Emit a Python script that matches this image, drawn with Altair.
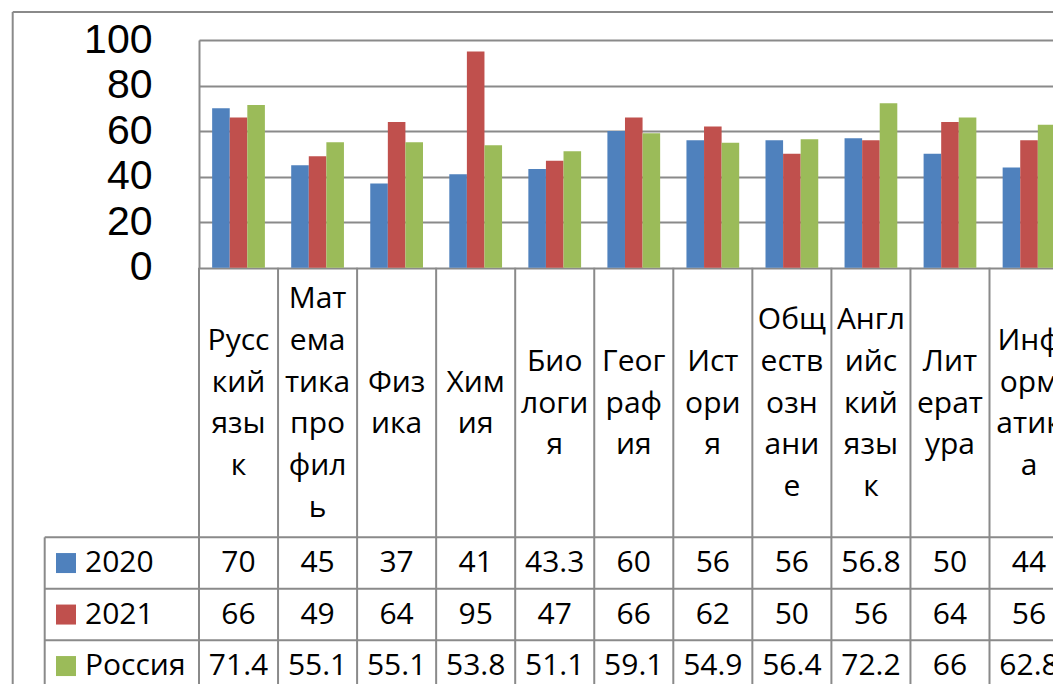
import altair as alt
import pandas as pd

# ---------------- data ----------------
subjects = ["Русский язык", "Математика профиль", "Физика", "Химия", "Биология",
            "География", "История", "Обществознание", "Английский язык",
            "Литература", "Информатика"]
header_lines = [
    ["Русс", "кий", "язы", "к"],
    ["Мат", "ема", "тика", "про", "фил", "ь"],
    ["Физ", "ика"],
    ["Хим", "ия"],
    ["Био", "логи", "я"],
    ["Геог", "раф", "ия"],
    ["Ист", "ори", "я"],
    ["Общ", "еств", "озн", "ани", "е"],
    ["Англ", "ийс", "кий", "язы", "к"],
    ["Лит", "ерат", "ура"],
    ["Инф", "орм", "атик", "а"],
]
series = ["2020", "2021", "Россия"]
values_2020 = [70, 45, 37, 41, 43.3, 60, 56, 56, 56.8, 50, 44]
values_2021 = [66, 49, 64, 95, 47, 66, 62, 50, 56, 64, 56]
values_russia = [71.4, 55.1, 55.1, 53.8, 51.1, 59.1, 54.9, 56.4, 72.2, 66, 62.8]
series_colors = ["#4F81BD", "#C0504D", "#9BBB59"]
y_ticks = [0, 20, 40, 60, 80, 100]

# ---------------- layout ----------------
PAD_L, PAD_T = 191, 32
STEP = 79.05
W, H = STEP * len(subjects), 644
VISIBLE_W = 1045                      # page width available for the svg
PAD_R = VISIBLE_W - PAD_L - W         # negative: the last column is cut off
BAR_H = 227.7
HEADER_MID = 363.5
LINE_H = 41.7
ROW_TOP, ROW_H = 497.3, 51.5
GRID = "#8a8a8a"
TXT_FONT = "Open Sans"
TXT_SIZE = 30

vals = {"2020": values_2020, "2021": values_2021, "Россия": values_russia}
long = pd.DataFrame([
    {"subject": s, "series": k, "value": v, "label": f"{v:g}"}
    for k in series for s, v in zip(subjects, vals[k])
])

hdr_rows = []
for s, lines in zip(subjects, header_lines):
    n = len(lines)
    for i, t in enumerate(lines):
        hdr_rows.append({"subject": s, "pos": i - (n - 1) / 2, "text": t})
hdr = pd.DataFrame(hdr_rows)

subj_df = pd.DataFrame({"subject": subjects})
ser_df = pd.DataFrame({"series": series})
one = pd.DataFrame({"k": [0]})

x_scale = alt.Scale(type="band", domain=subjects, paddingInner=0, paddingOuter=0)
row_scale = alt.Scale(type="band", domain=series,
                      range=[ROW_TOP, ROW_TOP + 3 * ROW_H],
                      paddingInner=0, paddingOuter=0)
color_scale = alt.Scale(domain=series, range=series_colors)

# column separators of the data table
col_rules = alt.Chart(subj_df).mark_rule(color=GRID, strokeWidth=2).encode(
    x=alt.X("subject:N", bandPosition=0, scale=x_scale, axis=None),
    y=alt.value(BAR_H), y2=alt.value(H),
)
# row separators
row_rules = alt.Chart(ser_df).mark_rule(color=GRID, strokeWidth=2).encode(
    y=alt.Y("series:N", bandPosition=0, scale=row_scale, axis=None),
    x=alt.value(-154.3), x2=alt.value(W),
)
legend_col_rule = alt.Chart(one).mark_rule(color=GRID, strokeWidth=2).encode(
    x=alt.value(-154.3), y=alt.value(ROW_TOP), y2=alt.value(H),
)
frame_left = alt.Chart(one).mark_rule(color=GRID, strokeWidth=2).encode(
    x=alt.value(-186.3), y=alt.value(-28), y2=alt.value(H),
)
frame_top = alt.Chart(one).mark_rule(color=GRID, strokeWidth=2).encode(
    x=alt.value(-186.3), x2=alt.value(W), y=alt.value(-28),
)

bars = alt.Chart(long).mark_bar().encode(
    x=alt.X("subject:N", scale=x_scale, axis=None),
    xOffset=alt.XOffset("series:N", scale=alt.Scale(domain=series, paddingOuter=0.748, paddingInner=0)),
    y=alt.Y("value:Q",
            scale=alt.Scale(domain=[0, 100], range=[BAR_H, 0], nice=False),
            axis=alt.Axis(values=y_ticks, title=None, labelFont="Liberation Sans",
                          labelFontSize=41, labelColor="black", labelPadding=47,
                          ticks=False, tickSize=0, domain=True, domainColor=GRID,
                          domainWidth=2, grid=True, gridColor=GRID, gridWidth=2)),
    color=alt.Color("series:N", scale=color_scale, legend=None),
)

# legend keys inside the data table
key_squares = alt.Chart(ser_df).mark_square(size=400, opacity=1, strokeWidth=0).encode(
    x=alt.value(-133),
    y=alt.Y("series:N", scale=row_scale, axis=None),
    color=alt.Color("series:N", scale=color_scale, legend=None),
)
key_labels = alt.Chart(ser_df).mark_text(font=TXT_FONT, fontSize=TXT_SIZE, color="black",
                                         baseline="middle", align="left").encode(
    x=alt.value(-114),
    y=alt.Y("series:N", scale=row_scale, axis=None),
    text="series:N",
)

header_text = alt.Chart(hdr).mark_text(font=TXT_FONT, fontSize=TXT_SIZE, color="black",
                                       baseline="middle", align="center").encode(
    x=alt.X("subject:N", scale=x_scale, axis=None),
    y=alt.Y("pos:Q", scale=alt.Scale(domain=[-3, 3],
                                     range=[HEADER_MID - 3 * LINE_H, HEADER_MID + 3 * LINE_H],
                                     nice=False, zero=False), axis=None),
    text="text:N",
)

table_text = alt.Chart(long).mark_text(font=TXT_FONT, fontSize=TXT_SIZE, color="black",
                                       baseline="middle", align="center").encode(
    x=alt.X("subject:N", scale=x_scale, axis=None),
    y=alt.Y("series:N", scale=row_scale, axis=None),
    text="label:N",
)

chart = alt.layer(
    col_rules, row_rules, legend_col_rule, frame_left, frame_top,
    bars, key_squares, key_labels, header_text, table_text,
).resolve_scale(y="independent").properties(
    width=W, height=H,
    autosize=alt.AutoSizeParams(type="none"),
    padding={"left": PAD_L, "top": PAD_T, "right": PAD_R, "bottom": 0},
).configure_view(stroke=None).configure(font=TXT_FONT)

chart.save("out.html", embed_options={"renderer": "svg", "actions": False})
